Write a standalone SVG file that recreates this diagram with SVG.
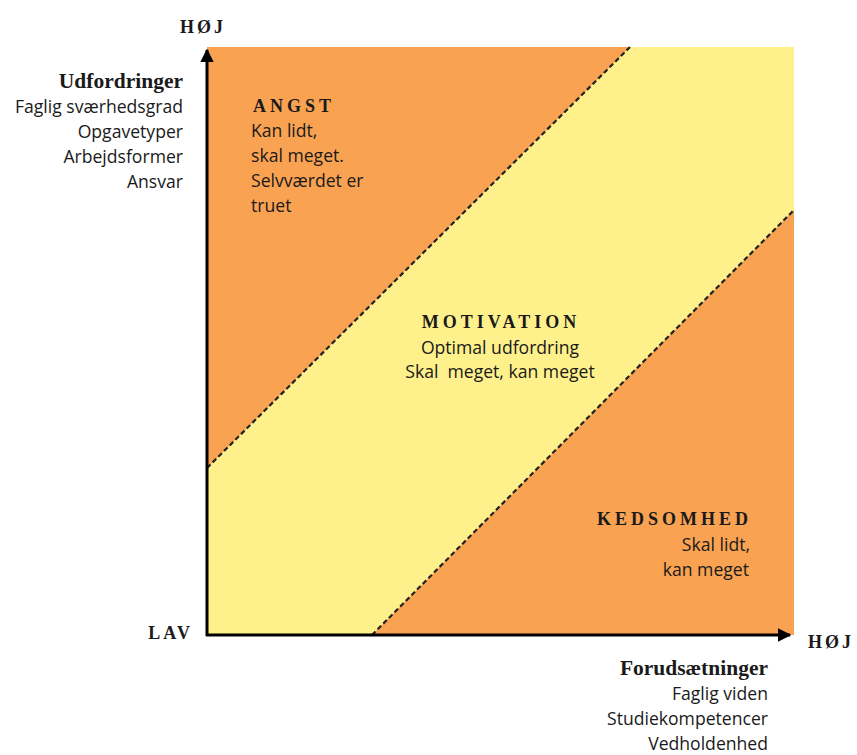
<svg xmlns="http://www.w3.org/2000/svg" width="857" height="755" viewBox="0 0 857 755">
<style>
.hd{font-family:"Liberation Serif","DejaVu Serif",serif;font-weight:bold;fill:#1a1a1a}
.sp{font-size:18px;letter-spacing:4px}
.tx{font-family:"Open Sans","Liberation Sans",sans-serif;fill:#1a1a1a;font-size:17.6px}
.dash{stroke:#222;stroke-width:2.2;stroke-dasharray:5 3;fill:none}
.axis{stroke:#000;stroke-width:3;fill:none}
</style>
<defs>
<marker id="arr" viewBox="0 0 10 10" refX="9" refY="5" markerWidth="4.5" markerHeight="4.5" orient="auto" markerUnits="strokeWidth">
<path d="M0,0 L10,5 L0,10 z" fill="#000"/>
</marker>
</defs>
<g id="zones">
<rect x="207" y="47" width="587" height="588" fill="#F9A252"/>
<polygon points="207,468 630,47 794,47 794,210 372,635 207,635" fill="#FEF18B"/>
</g>
<g id="connectors">
<line class="dash" x1="207" y1="468" x2="630" y2="47"/>
<line class="dash" x1="372" y1="635" x2="794" y2="210"/>
<line class="axis" x1="207" y1="636" x2="207" y2="50" marker-end="url(#arr)"/>
<line class="axis" x1="206" y1="635" x2="790" y2="635" marker-end="url(#arr)"/>
</g>
<g id="y-axis-label">
<text class="hd sp" x="203" y="33" text-anchor="middle" style="letter-spacing:3px">HØJ</text>
<text class="hd" x="183" y="88" font-size="21.5" text-anchor="end">Udfordringer</text>
<text class="tx" x="183" y="113" text-anchor="end">Faglig sværhedsgrad</text>
<text class="tx" x="183" y="138" text-anchor="end">Opgavetyper</text>
<text class="tx" x="183" y="163" text-anchor="end">Arbejdsformer</text>
<text class="tx" x="183" y="188" text-anchor="end">Ansvar</text>
<text class="hd sp" x="193" y="639" text-anchor="end" style="letter-spacing:3px">LAV</text>
</g>
<g id="x-axis-label">
<text class="hd sp" x="808" y="648" style="letter-spacing:3px">HØJ</text>
<text class="hd" x="768" y="675" font-size="21.5" text-anchor="end">Forudsætninger</text>
<text class="tx" x="768" y="700" text-anchor="end">Faglig viden</text>
<text class="tx" x="768" y="725" text-anchor="end">Studiekompetencer</text>
<text class="tx" x="768" y="750" text-anchor="end">Vedholdenhed</text>
</g>
<g id="angst">
<text class="hd sp" x="253" y="112">ANGST</text>
<text class="tx" x="251" y="137">Kan lidt,</text>
<text class="tx" x="251" y="162">skal meget.</text>
<text class="tx" x="251" y="187">Selvværdet er</text>
<text class="tx" x="251" y="212">truet</text>
</g>
<g id="motivation">
<text class="hd sp" x="501" y="328" text-anchor="middle">MOTIVATION</text>
<text class="tx" x="500" y="354" text-anchor="middle">Optimal udfordring</text>
<text class="tx" x="500" y="378" text-anchor="middle" xml:space="preserve">Skal  meget, kan meget</text>
</g>
<g id="kedsomhed">
<text class="hd sp" x="752" y="525" text-anchor="end">KEDSOMHED</text>
<text class="tx" x="750" y="551" text-anchor="end">Skal lidt,</text>
<text class="tx" x="749" y="576" text-anchor="end">kan meget</text>
</g>
</svg>
